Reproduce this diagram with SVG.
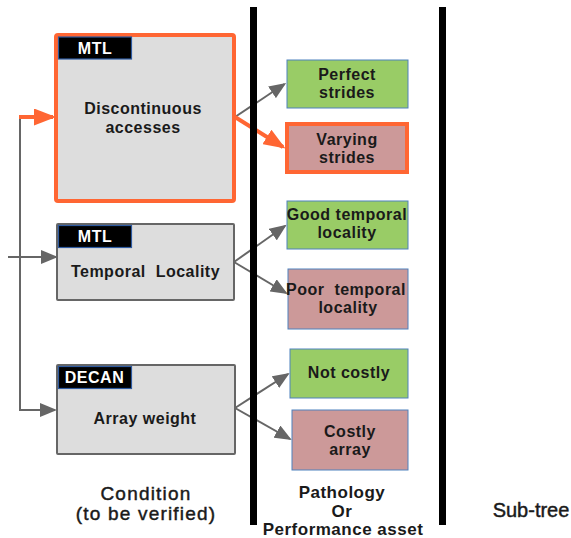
<svg xmlns="http://www.w3.org/2000/svg" width="571" height="538" viewBox="0 0 571 538">
<style>
.cond{fill:#dddddd;stroke:#666666;stroke-width:2}
.good{fill:#99cc66;stroke:#4f81bd;stroke-width:1}
.bad{fill:#cc9999;stroke:#4f81bd;stroke-width:1}
.cond.hot,.bad.hot{stroke:#ff6633;stroke-width:4}
.tag{fill:#000000;stroke:#2e5aa0;stroke-width:1.2}
.tagt{font-family:"Liberation Sans",Arial,sans-serif;font-weight:bold;font-size:16px;fill:#ffffff;text-anchor:middle;letter-spacing:0.5px}
.t{font-family:"Liberation Sans",Arial,sans-serif;font-weight:bold;font-size:16px;fill:#1a1a1a;text-anchor:middle;letter-spacing:0.5px}
.ln{fill:none;stroke:#666666;stroke-width:2}
.lo{fill:none;stroke:#ff6633;stroke-width:4}
.bar{fill:#000000}
.cap{font-family:"Liberation Sans",Arial,sans-serif;font-size:19px;fill:#1a1a1a;stroke:#1a1a1a;stroke-width:0.45;text-anchor:middle;letter-spacing:1.2px}
.capb{font-family:"Liberation Sans",Arial,sans-serif;font-weight:bold;font-size:17px;fill:#1a1a1a;text-anchor:middle;letter-spacing:0.5px}
</style>
<defs>
<marker id="ag" markerUnits="userSpaceOnUse" markerWidth="18" markerHeight="14" refX="15" refY="7" orient="auto">
<path d="M0,0 L17,7 L0,14 z" fill="#666666"/>
</marker>
<marker id="ao" markerUnits="userSpaceOnUse" markerWidth="23" markerHeight="17" refX="19" refY="8.5" orient="auto">
<path d="M0,0 L22,8.5 L0,17 z" fill="#ff6633"/>
</marker>
</defs>
<rect width="571" height="538" fill="#ffffff"/>

<g id="connectors">
<path class="ln" d="M20,117 V410 H55" marker-end="url(#ag)"/>
<path class="ln" d="M8,257 H56" marker-end="url(#ag)"/>
<path class="lo" d="M19,117 H53" marker-end="url(#ao)"/>
<path class="ln" d="M235,117 L284.5,84" marker-end="url(#ag)"/>
<path class="lo" d="M235,117 L283,147" marker-end="url(#ao)"/>
<path class="ln" d="M234,262 L285,226" marker-end="url(#ag)"/>
<path class="ln" d="M234,262 L286,293" marker-end="url(#ag)"/>
<path class="ln" d="M235,408 L288,374" marker-end="url(#ag)"/>
<path class="ln" d="M235,408 L290,439" marker-end="url(#ag)"/>
</g>

<g id="bars">
<rect class="bar" x="250" y="7" width="7" height="518"/>
<rect class="bar" x="439" y="7" width="7" height="518"/>
</g>

<g id="n-discontinuous">
<rect class="cond hot" x="56" y="35" width="178" height="166" rx="2"/>
<rect class="tag" x="58.5" y="37" width="73" height="22"/>
<text class="tagt" x="95" y="53.5">MTL</text>
<text class="t" x="143" y="114">Discontinuous</text>
<text class="t" x="143" y="133">accesses</text>
</g>

<g id="n-temporal">
<rect class="cond" x="57" y="224" width="177" height="76" rx="1"/>
<rect class="tag" x="58.5" y="225.5" width="73" height="22"/>
<text class="tagt" x="95" y="242">MTL</text>
<text class="t" x="145.5" y="277" xml:space="preserve">Temporal  Locality</text>
</g>

<g id="n-array">
<rect class="cond" x="57" y="365" width="178" height="89" rx="1"/>
<rect class="tag" x="58.5" y="366.5" width="73" height="22"/>
<text class="tagt" x="94.5" y="383">DECAN</text>
<text class="t" x="145" y="424">Array weight</text>
</g>

<g id="n-perfect">
<rect class="good" x="287" y="60" width="121" height="48"/>
<text class="t" x="347" y="80">Perfect</text>
<text class="t" x="347" y="98">strides</text>
</g>

<g id="n-varying">
<rect class="bad hot" x="287" y="124" width="120" height="48"/>
<text class="t" x="347" y="145">Varying</text>
<text class="t" x="347" y="163">strides</text>
</g>

<g id="n-good-temporal">
<rect class="good" x="287" y="201" width="121" height="48"/>
<text class="t" x="347" y="220">Good temporal</text>
<text class="t" x="347" y="238">locality</text>
</g>

<g id="n-poor-temporal">
<rect class="bad" x="288" y="269" width="120" height="60"/>
<text class="t" x="346" y="295" xml:space="preserve">Poor  temporal</text>
<text class="t" x="348" y="313">locality</text>
</g>

<g id="n-not-costly">
<rect class="good" x="290" y="349" width="118" height="49"/>
<text class="t" x="349" y="378">Not costly</text>
</g>

<g id="n-costly-array">
<rect class="bad" x="292" y="410" width="116" height="60"/>
<text class="t" x="350" y="437">Costly</text>
<text class="t" x="350" y="455">array</text>
</g>

<g id="captions">
<text class="cap" x="146" y="500">Condition</text>
<text class="cap" x="146" y="520">(to be verified)</text>
<text class="capb" x="342" y="498">Pathology</text>
<text class="capb" x="342" y="517">Or</text>
<text class="capb" x="343" y="535">Performance asset</text>
<text class="cap" x="531" y="517" style="font-size:20px;letter-spacing:0">Sub-tree</text>
</g>
</svg>
